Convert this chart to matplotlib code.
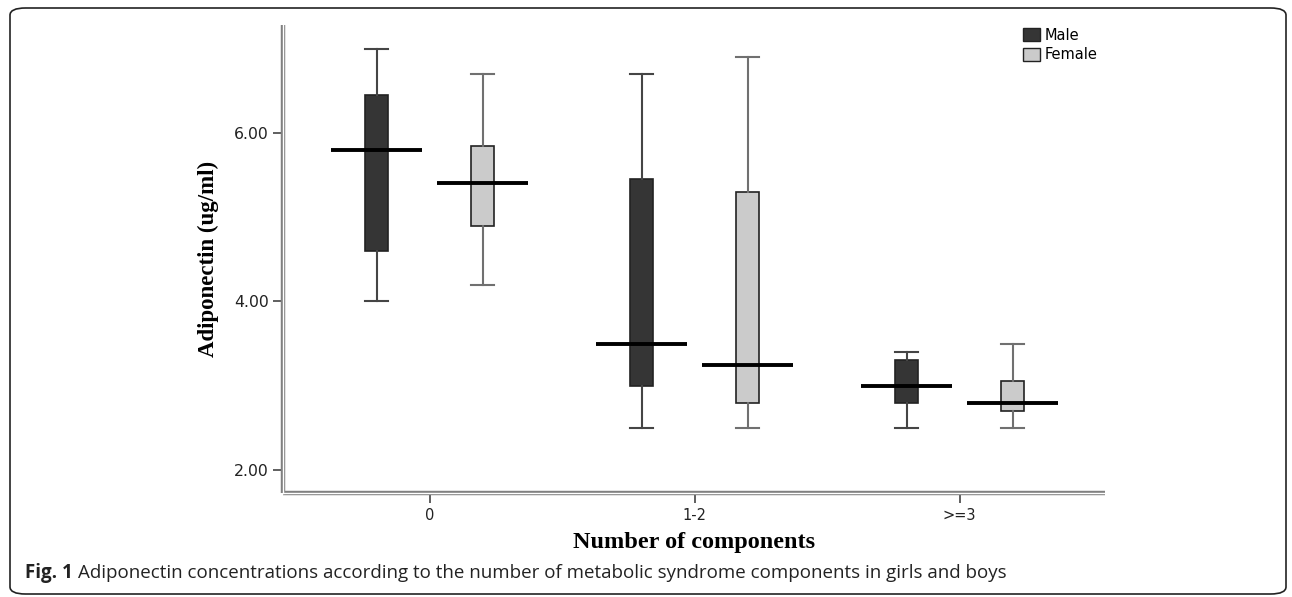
import matplotlib
matplotlib.use("Agg")
import matplotlib.pyplot as plt
from matplotlib.patches import Patch, FancyBboxPatch
from matplotlib.lines import Line2D

categories = ['0', '1-2', '>=3']
series = ['Male', 'Female']

male_whislo = [4.0, 2.5, 2.5]
male_q1 = [4.6, 3.0, 2.8]
male_med = [5.8, 3.5, 3.0]
male_q3 = [6.45, 5.45, 3.3]
male_whishi = [7.0, 6.7, 3.4]

female_whislo = [4.2, 2.5, 2.5]
female_q1 = [4.9, 2.8, 2.7]
female_med = [5.4, 3.25, 2.8]
female_q3 = [5.85, 5.3, 3.05]
female_whishi = [6.7, 6.9, 3.5]

yticks = [2.0, 4.0, 6.0]
ytick_labels = ['2.00', '4.00', '6.00']

male_color = '#353535'
female_color = '#cbcbcb'

fig = plt.figure(figsize=(12.92, 5.97), dpi=100)
ax = fig.add_axes([283 / 1292, 1 - 493 / 597, (1105 - 283) / 1292, (493 - 25) / 597])

offset = 0.2
bw = 0.087
med_w = 0.34


def stats(lo, q1, med, q3, hi):
    return [dict(whislo=a, q1=b, med=c, q3=d, whishi=e, fliers=[])
            for a, b, c, d, e in zip(lo, q1, med, q3, hi)]


groups = [
    (stats(male_whislo, male_q1, male_med, male_q3, male_whishi), male_med, -offset, male_color, '#454545'),
    (stats(female_whislo, female_q1, female_med, female_q3, female_whishi), female_med, offset, female_color, '#707070'),
]

for st, med, off, col, wcol in groups:
    pos = [i + off for i in range(len(categories))]
    ax.bxp(st, positions=pos, widths=bw, capwidths=bw, patch_artist=True,
           showfliers=False,
           boxprops=dict(facecolor=col, edgecolor='#222222', linewidth=1.2),
           whiskerprops=dict(color=wcol, linewidth=1.5),
           capprops=dict(color=wcol, linewidth=1.5),
           medianprops=dict(linewidth=0),
           manage_ticks=False)
    ax.hlines(med, [p - med_w / 2 for p in pos], [p + med_w / 2 for p in pos],
              colors='black', linewidth=2.8, zorder=5)

ax.set_xlim(-0.553, 2.549)
ax.set_ylim(1.727, 7.28)
ax.set_xticks(range(len(categories)))
ax.set_xticklabels(categories, fontsize=10.5, family='DejaVu Sans', color='#222222')
ax.set_yticks(yticks)
ax.set_yticklabels(ytick_labels, fontsize=11.3, family='DejaVu Sans', color='#222222')
ax.tick_params(axis='both', length=7, width=1.2, color='#444444')
ax.tick_params(axis='y', pad=3)
ax.tick_params(axis='x', pad=4)

for s in ['top', 'right']:
    ax.spines[s].set_visible(False)
for s in ['left', 'bottom']:
    ax.spines[s].set_color('#808080')
    ax.spines[s].set_linewidth(3.2)
    ax.spines[s].set_capstyle('butt')

# inner white line to give the double-line look
ax.add_line(Line2D([0, 0], [0, 1], transform=ax.transAxes, color='white',
                   linewidth=1.0, clip_on=False, zorder=3))
ax.add_line(Line2D([0, 1], [0, 0], transform=ax.transAxes, color='white',
                   linewidth=1.0, clip_on=False, zorder=3))

ax.set_ylabel('Adiponectin (ug/ml)', family='Liberation Serif', fontweight='bold',
              fontsize=16.5, labelpad=11)
ax.set_xlabel('Number of components', family='Liberation Serif', fontweight='bold',
              fontsize=17.5, labelpad=6)

handles = [Patch(facecolor=male_color, edgecolor='#222222', linewidth=1.0),
           Patch(facecolor=female_color, edgecolor='#222222', linewidth=1.0)]
fig.legend(handles, series, loc='upper left', bbox_to_anchor=(1020 / 1292, 1 - 25 / 597),
           frameon=False, fontsize=10.5, handlelength=1.2, handleheight=1.0,
           handletextpad=0.3, labelspacing=0.3, borderaxespad=0, borderpad=0.2)

# rounded border around figure
border = FancyBboxPatch((10 / 1292, 3 / 597), (1286 - 10) / 1292, (589 - 3) / 597,
                        boxstyle='round,pad=0,rounding_size=0.012',
                        transform=fig.transFigure, fill=False, edgecolor='#222222',
                        linewidth=1.2)
fig.patches.append(border)

fig.text(25 / 1292, 1 - 573 / 597, 'Fig. 1', family='Open Sans',
         fontweight='bold', fontsize=13.5, va='center', ha='left', color='#222222')
fig.text(78 / 1292, 1 - 573 / 597,
         'Adiponectin concentrations according to the number of metabolic syndrome components in girls and boys',
         family='Open Sans', fontsize=13.5, va='center', ha='left', color='#222222')

fig.savefig('out.png', dpi=100)
